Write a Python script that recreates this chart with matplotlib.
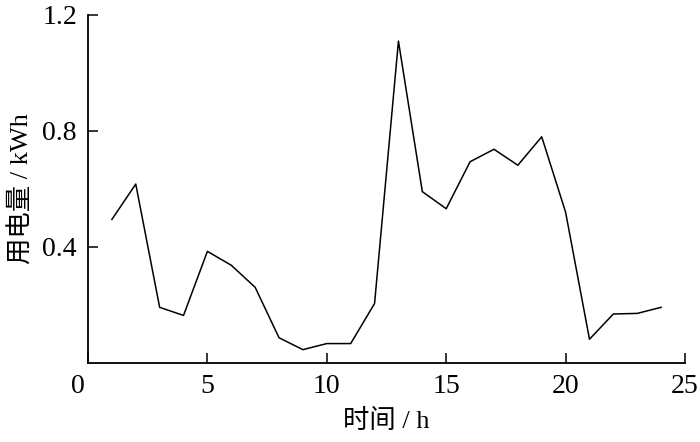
import numpy as np
import matplotlib
matplotlib.use('Agg')
import matplotlib.pyplot as plt
import matplotlib.transforms as mtransforms

plt.rcParams['font.family'] = ['Liberation Serif', 'Noto Sans CJK SC']
plt.rcParams['mathtext.fontset'] = 'stix'

# hourly electricity use
hours = np.arange(1, 25)
usage = [0.495, 0.617, 0.192, 0.164, 0.385, 0.337, 0.261, 0.087,
         0.046, 0.067, 0.067, 0.205, 1.110, 0.591, 0.532, 0.694,
         0.737, 0.682, 0.780, 0.520, 0.082, 0.169, 0.171, 0.192]

x_ticks = [0, 5, 10, 15, 20, 25]
y_ticks = [0.4, 0.8, 1.2]

fig = plt.figure(figsize=(7, 4.42), dpi=100)
ax = fig.add_axes([88/700, 79/442, 597/700, 348/442])

ax.plot(hours, usage, color='black', lw=1.1)

ax.set_xlim(0, 25)
ax.set_ylim(0, 1.2)
ax.set_xticks(x_ticks)
ax.set_yticks(y_ticks)
ax.set_yticklabels(['0.4', '0.8', '1.2'])

for s in ['top', 'right']:
    ax.spines[s].set_visible(False)
for s in ['left', 'bottom']:
    ax.spines[s].set_linewidth(1.3)

ax.tick_params(direction='in', length=7, width=1.1, labelsize=20, pad=8)

# origin label sits a bit left of the axis
lbl0 = ax.get_xticklabels()[0]
lbl0.set_transform(lbl0.get_transform() +
                   mtransforms.ScaledTranslation(-7/72, 0, fig.dpi_scale_trans))

ax.set_xlabel('时间 / h', fontsize=19, labelpad=7)
ax.set_ylabel('用电量 / kWh', fontsize=19, labelpad=6)

fig.savefig('out.png', dpi=100)
